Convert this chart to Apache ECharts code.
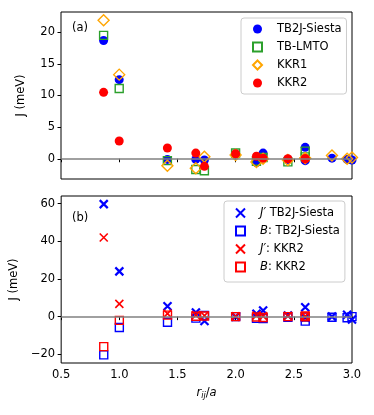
<!DOCTYPE html>
<html>
<head>
<meta charset="utf-8">
<script src="https://cdn.jsdelivr.net/npm/echarts@6/dist/echarts.min.js"></script>
<style>
html,body{margin:0;padding:0;background:#fff}
#chart{width:374px;height:415px}
</style>
</head>
<body>
<div id="chart"></div>
<script>
// distances r_ij/a (2.598 appears twice: two shells at same distance)
const dist = [0.866, 1.0, 1.414, 1.658, 1.732, 2.0, 2.179, 2.236, 2.449, 2.598, 2.598, 2.828, 2.958, 3.0];

// panel (a)
const jTB2J = [18.7, 12.5, -0.1, -0.1, -0.2, 0.7, -0.6, 0.9, -0.1, 1.8, -0.3, 0.1, -0.1, -0.2];
const jLMTO = [19.5, 11.1, -0.3, -1.7, -1.9, 0.9, -0.4, 0.2, -0.5, 1.2, 0.3, null, null, null];
const jKKR1 = [21.9, 13.3, -1.1, -1.5, 0.3, 0.6, -0.5, 0.0, -0.2, 0.1, 0.1, 0.5, 0.0, 0.2];
const jKKR2 = [10.5, 2.8, 1.7, 0.9, -1.2, 0.8, 0.4, 0.1, 0.0, 0.0, 0.0, null, null, null];

// panel (b)
const jpTB2J = [59.7, 24.0, 5.5, 2.2, -2.3, 0.0, 1.5, 3.3, 0.6, 5.0, -0.5, 0.0, 1.0, -1.5];
const bTB2J = [-20.3, -5.8, -3.0, -0.8, 0.6, 0.0, -0.9, -1.0, -0.4, -2.4, -0.2, -0.3, -0.6, 0.0];
const jpKKR2 = [42.0, 6.8, 1.6, 0.8, 0.5, 0.2, 0.6, 0.3, 0.4, 0.2, 0.2, null, null, null];
const bKKR2 = [-15.9, -2.0, 0.8, 0.2, 0.3, 0.0, -0.2, -0.5, 0.0, 0.3, -0.1, null, null, null];

const yTicksA = [0, 5, 10, 15, 20];
const yTicksB = [-20, 0, 20, 40, 60];

const FONT = 'DejaVu Sans';
const FS = 11.5;
const pairs = ys => dist.map((x, i) => [x, ys[i]]).filter(p => p[1] !== null);
const minus = v => (v < 0 ? '\u2212' + Math.abs(v) : String(v));
const CROSS = 'path://M0,0L10,10M10,0L0,10';
const clear = 'rgba(0,0,0,0)';

function sc(name, ys, grid, symbol, size, style) {
    return {
        name: name, type: 'scatter', xAxisIndex: grid, yAxisIndex: grid,
        data: pairs(ys), symbol: symbol, symbolSize: size,
        itemStyle: Object.assign({opacity: 1}, style), emphasis: {disabled: true}, silent: true
    };
}
const zeroLine = {
    silent: true, symbol: 'none', label: {show: false},
    lineStyle: {color: '#808080', width: 1.6, type: 'solid'},
    data: [{yAxis: 0}]
};

function xAxis(grid, labels) {
    return {
        type: 'value', gridIndex: grid, min: 0.5, max: 3.0, interval: 0.5,
        axisLine: {show: false}, splitLine: {show: false},
        axisTick: {show: true, length: 3.5, lineStyle: {color: '#000'}},
        axisLabel: {show: labels, color: '#000', fontFamily: FONT, fontSize: FS, margin: 6,
            formatter: v => v.toFixed(1)},
        name: labels ? '{i|r}{s|ij}{n|/}{i|a}' : '',
        nameLocation: 'middle', nameGap: 23,
        nameTextStyle: {rich: {
            i: {fontStyle: 'italic', fontFamily: FONT, fontSize: FS, color: '#000'},
            n: {fontFamily: FONT, fontSize: FS, color: '#000'},
            s: {fontStyle: 'italic', fontFamily: FONT, fontSize: 8, color: '#000', padding: [6, 0, 0, 0]}
        }}
    };
}
function yAxis(grid, min, max, ticks, gap) {
    return {
        type: 'value', gridIndex: grid, min: min, max: max,
        axisLine: {show: false}, splitLine: {show: false},
        axisTick: {show: true, length: 3.5, customValues: ticks, lineStyle: {color: '#000'}},
        axisLabel: {color: '#000', fontFamily: FONT, fontSize: FS, margin: 6,
            customValues: ticks, formatter: minus},
        name: 'J (meV)', nameLocation: 'middle', nameRotate: 90, nameGap: gap,
        nameTextStyle: {fontFamily: FONT, fontSize: FS, color: '#000'}
    };
}
function legend(names, left, top, pad) {
    return {
        data: names, orient: 'vertical', left: left, top: top,
        itemWidth: 9, itemHeight: 9, itemGap: 6,
        padding: pad, borderColor: '#cccccc', borderWidth: 1, borderRadius: 3,
        backgroundColor: 'rgba(255,255,255,0.8)',
        selectedMode: false,
        textStyle: {fontFamily: FONT, fontSize: FS, color: '#000',
            rich: {i: {fontStyle: 'italic', fontFamily: FONT, fontSize: FS, color: '#000'},
                   n: {fontFamily: FONT, fontSize: FS, color: '#000'},
                   sp: {width: 10}}},
        formatter: name => {
            if (name.startsWith("J'")) return '{sp|}{i|J\u2032}{n|' + name.slice(2) + '}';
            if (name.startsWith('B:')) return '{sp|}{i|B}{n|' + name.slice(1) + '}';
            return '{sp|}{n|' + name + '}';
        }
    };
}

const chart = echarts.init(document.getElementById('chart'), null, {renderer: 'canvas'});

const blueX = {color: clear, borderColor: '#0000ff', borderWidth: 2.2};
const redX = {color: clear, borderColor: '#ff0000', borderWidth: 1.6};

const seriesList = [
    sc('TB2J-Siesta', jTB2J, 0, 'circle', 9, {color: '#0000ff'}),
    sc('TB-LMTO', jLMTO, 0, 'rect', 8, {color: clear, borderColor: '#2ca02c', borderWidth: 1.4}),
    sc('KKR1', jKKR1, 0, 'diamond', 11, {color: clear, borderColor: '#ffa500', borderWidth: 1.4}),
    sc('KKR2', jKKR2, 0, 'circle', 9, {color: '#ff0000'}),
    sc("J' TB2J-Siesta", jpTB2J, 1, CROSS, 8, blueX),
    sc('B: TB2J-Siesta', bTB2J, 1, 'rect', 8, {color: clear, borderColor: '#0000ff', borderWidth: 1.4}),
    sc("J': KKR2", jpKKR2, 1, CROSS, 8, redX),
    sc('B: KKR2', bKKR2, 1, 'rect', 8, {color: clear, borderColor: '#ff0000', borderWidth: 1.4})
];
seriesList[0].markLine = zeroLine;
seriesList[4].markLine = zeroLine;

chart.setOption({
    backgroundColor: '#ffffff',
    animation: false,
    textStyle: {fontFamily: FONT},
    grid: [
        {left: 61, top: 12, width: 291, height: 167, show: true, borderColor: '#000', borderWidth: 1, backgroundColor: clear},
        {left: 61, top: 196, width: 291, height: 167, show: true, borderColor: '#000', borderWidth: 1, backgroundColor: clear}
    ],
    xAxis: [xAxis(0, false), xAxis(1, true)],
    yAxis: [yAxis(0, -3.2, 23.2, yTicksA, 34), yAxis(1, -24.6, 64, yTicksB, 38)],
    legend: [
        legend(['TB2J-Siesta', 'TB-LMTO', 'KKR1', 'KKR2'], 241, 18, [5, 5, 5, 11]),
        legend(["J' TB2J-Siesta", 'B: TB2J-Siesta', "J': KKR2", 'B: KKR2'], 224, 201, [6, 5, 9, 11])
    ],
    graphic: [
        {type: 'text', left: 72, top: 22, style: {text: '(a)', font: FS + 'px "DejaVu Sans"', fill: '#000'}},
        {type: 'text', left: 72, top: 212, style: {text: '(b)', font: FS + 'px "DejaVu Sans"', fill: '#000'}}
    ],
    series: seriesList
});

window.addEventListener('resize', () => chart.resize());
</script>
</body>
</html>
